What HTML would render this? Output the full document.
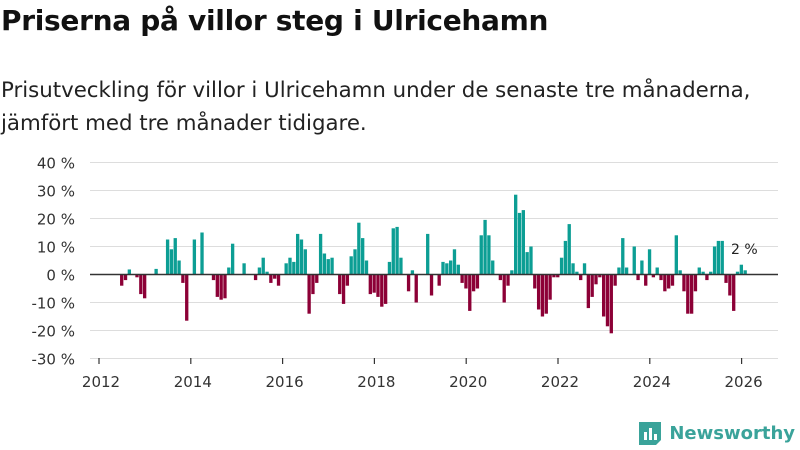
<!DOCTYPE html>
<html><head><meta charset="utf-8"><style>
body{margin:0;width:800px;height:450px;background:#fff;font-family:"DejaVu Sans","Liberation Sans",sans-serif;overflow:hidden;position:relative}
h1{position:absolute;left:1px;top:4px;margin:0;font-size:28px;font-weight:bold;color:#111;letter-spacing:-0.3px;white-space:nowrap}
.sub{position:absolute;left:1px;top:74px;margin:0;font-size:21.3px;line-height:33px;color:#222;white-space:nowrap}
svg{position:absolute;left:0;top:0}
</style></head><body>
<h1>Priserna på villor steg i Ulricehamn</h1>
<p class="sub">Prisutveckling för villor i Ulricehamn under de senaste tre månaderna,<br>jämfört med tre månader tidigare.</p>
<svg id="c" width="800" height="450"></svg>
<script>
const yTicks=[40,30,20,10,0,-10,-20,-30];
const xTicks=[2012,2014,2016,2018,2020,2022,2024,2026];
const startMonth=6; // months since Jan 2012 for first bar
const values=[-4,-2,1.8,0,-1,-7,-8.5,0,0,2,0,0,12.5,9,13,5,-3,-16.5,0,12.5,0,15,0,0,-2,-8,-9,-8.5,2.5,11,0,0,4,0,0,-2,2.5,6,1,-3,-1.5,-4,0,4,6,4.5,14.5,12.5,9,-14,-7,-3,14.5,7.5,5.5,6,0,-7,-10.5,-4,6.5,9,18.5,13,5,-7,-6.5,-8,-11.5,-10.5,4.5,16.5,17,6,0,-6,1.5,-10,0,0,14.5,-7.5,0,-4,4.5,4,5,9,3.5,-3,-5,-13,-6,-5,14,19.5,14,5,0,-2,-10,-4,1.5,28.5,22,23,8,10,-5,-12.5,-15,-14,-9,-1,-1,6,12,18,4,1,-2,4,-12,-8,-3.5,-1,-15,-18.5,-21,-4,2.5,13,2.5,0,10,-2,5,-4,9,-1,2.5,-2,-6,-5,-4,14,1.5,-6,-14,-14,-6,2.5,1,-2,1,10,12,12,-3,-7.5,-13,1,3.5,1.5];
const lastLabel="2 %";
const NS="http://www.w3.org/2000/svg";
const svg=document.getElementById('c');
const x=yr=>99+(yr-2012)*45.9;
const y=v=>274.5-v*2.8;
function mk(t,a){const e=document.createElementNS(NS,t);for(const k in a)e.setAttribute(k,a[k]);svg.appendChild(e);return e;}
yTicks.forEach(t=>{
 const g=mk('line',{x1:90,x2:778,y1:y(t),y2:y(t),stroke:'#ddd','stroke-width':1});
 
 
 const l=mk('text',{x:75,y:y(t)+6,'text-anchor':'end','font-size':15,fill:'#333'});
 l.textContent=t+' %';
 
 
});
xTicks.forEach(t=>{
 const k=mk('line',{x1:x(t),x2:x(t),y1:358,y2:364,stroke:'#333','stroke-width':1.2});
 
 
 const l=mk('text',{x:x(t)+2,y:387,'text-anchor':'middle','font-size':15,fill:'#333'});
 l.textContent=t;
 
 
});
const mw=45.9/12;
values.forEach((v,i)=>{
 if(v===0)return;
 const m=startMonth+i;
 const left=x(2012+(m-0.5)/12);
 const r=mk('rect',{x:left,width:mw-0.5,y:Math.min(y(v),y(0)),height:Math.abs(y(v)-y(0)),fill:v>0?'#0c9e94':'#8c0036'});
 
 
});
const z=mk('line',{x1:90,x2:778,y1:y(0),y2:y(0),stroke:'#333','stroke-width':1.5});


const ll=mk('text',{x:731,y:254,'font-size':14,fill:'#222'});
ll.textContent=lastLabel;


</script>
<div style="position:absolute;right:5px;top:420px;display:flex;align-items:center">
<svg width="26" height="26" style="position:static"><path d="M2 2h22v18l-5 5H2z" fill="#3aa39a"/><rect x="7" y="12" width="3" height="8" fill="#fff"/><rect x="12" y="8" width="3" height="12" fill="#fff"/><rect x="17" y="14" width="3" height="6" fill="#fff"/></svg>
<span style="font-size:18px;font-weight:bold;color:#3aa39a;margin-left:6px">Newsworthy</span></div>
</body></html>
